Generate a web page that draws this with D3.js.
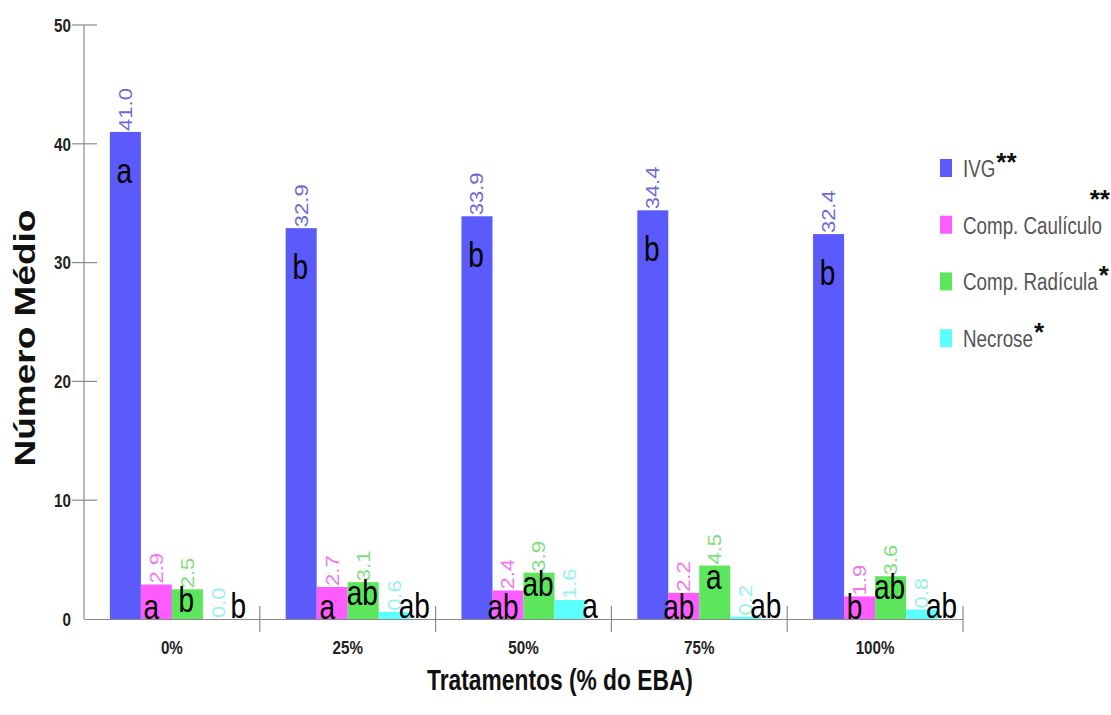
<!DOCTYPE html>
<html><head><meta charset="utf-8">
<script src="https://cdn.jsdelivr.net/npm/d3@7"></script>
<style>body{margin:0;background:#fff}svg{display:block}</style>
</head><body><svg id="c" width="1111" height="715"></svg>
<script>
// ---- data ----
const categories = ["0%", "25%", "50%", "75%", "100%"];
const seriesNames = ["IVG", "Comp. Caulículo", "Comp. Radícula", "Necrose"];
const ivg     = [41.0, 32.9, 33.9, 34.4, 32.4];
const caulic  = [2.9, 2.7, 2.4, 2.2, 1.9];
const radic   = [2.5, 3.1, 3.9, 4.5, 3.6];
const necrose = [0.0, 0.6, 1.6, 0.2, 0.8];
const lettersIvg  = ["a", "b", "b", "b", "b"];
const lettersCaul = ["a", "a", "ab", "ab", "b"];
const lettersRad  = ["b", "ab", "ab", "a", "ab"];
const lettersNec  = ["b", "ab", "a", "ab", "ab"];
const significance = ["**", "**", "*", "*"];
const yTicks = [0, 10, 20, 30, 40, 50];
const xTitle = "Tratamentos (% do EBA)";
const yTitle = "Número Médio";

// ---- styles ----
const FONT = "'Liberation Sans', Arial, sans-serif";
const barColors = ["#5b5bfb", "#ff5cff", "#5ce65c", "#5cffff"];
const labelColors = ["#6a6ad8", "#ee78ee", "#80de80", "#96f0f0"];
const letterStyle = [
  {dx: -1, mode: "top", off: 51},
  {dx: -5, mode: "base", off: 0},
  {dx: -1, mode: "top", off: 23},
  {dx: 20, mode: "base", off: -1}
];

const values = [ivg, caulic, radic, necrose];
const letters = [lettersIvg, lettersCaul, lettersRad, lettersNec];

const svg = d3.select("#c");
const mLeft = 84, mRight = 963, mTop = 25, mBottom = 619;

const x = d3.scaleBand().domain(categories).range([mLeft, mRight]).paddingInner(0).paddingOuter(0);
const xs = d3.scaleBand().domain(d3.range(seriesNames.length)).range([0, x.bandwidth()]).paddingInner(0).paddingOuter(0.835);
const y = d3.scaleLinear().domain([0, 50]).range([mBottom, mTop]);

const axisColor = "#8a8a8a";

const data = [];
categories.forEach((c, ci) => {
  values.forEach((arr, si) => {
    data.push({c, ci, si, v: arr[ci], letter: letters[si][ci]});
  });
});

svg.append("g").selectAll("rect").data(data).join("rect")
  .attr("x", d => x(d.c) + xs(d.si))
  .attr("width", xs.bandwidth())
  .attr("y", d => y(d.v))
  .attr("height", d => y(0) - y(d.v))
  .attr("fill", d => barColors[d.si]);

// axes lines
svg.append("line").attr("x1", mLeft).attr("x2", mLeft).attr("y1", y(50)).attr("y2", y(0))
  .attr("stroke", axisColor).attr("stroke-width", 1.2);
svg.append("line").attr("x1", mLeft).attr("x2", mRight).attr("y1", y(0) + 0.5).attr("y2", y(0) + 0.5)
  .attr("stroke", axisColor).attr("stroke-width", 1.2);

// y ticks
svg.append("g").selectAll("line").data(yTicks.filter(t => t > 0)).join("line")
  .attr("x1", mLeft - 12).attr("x2", mLeft + 13)
  .attr("y1", d => y(d)).attr("y2", d => y(d))
  .attr("stroke", axisColor).attr("stroke-width", 1.2);
svg.append("g").selectAll("text").data(yTicks).join("text")
  .attr("transform", d => `translate(${mLeft - 13},${y(d)}) scale(0.8,1)`)
  .attr("text-anchor", "end").attr("dy", "0.36em")
  .attr("font-family", FONT).attr("font-size", 19).attr("font-weight", "bold")
  .attr("fill", "#222").text(d => d);

// x separators
svg.append("g").selectAll("line").data(categories).join("line")
  .attr("x1", d => x(d) + x.bandwidth()).attr("x2", d => x(d) + x.bandwidth())
  .attr("y1", y(0) - 13).attr("y2", y(0) + 13)
  .attr("stroke", axisColor).attr("stroke-width", 1.2);
svg.append("g").selectAll("text").data(categories).join("text")
  .attr("transform", d => `translate(${x(d) + x.bandwidth() / 2},654) scale(0.8,1)`)
  .attr("text-anchor", "middle")
  .attr("font-family", FONT).attr("font-size", 19).attr("font-weight", "bold")
  .attr("fill", "#222").text(d => d);

// value labels (rotated)
svg.append("g").selectAll("text").data(data).join("text")
  .attr("transform", d => `translate(${x(d.c) + xs(d.si) + xs.bandwidth() / 2},${y(d.v) - 1}) rotate(-90) scale(1,0.8)`)
  .attr("dy", "0.36em")
  .attr("font-family", FONT).attr("font-size", 22)
  .attr("fill", d => labelColors[d.si])
  .text(d => d.v.toFixed(1));

// significance letters
svg.append("g").selectAll("text").data(data).join("text")
  .attr("transform", d => {
    const st = letterStyle[d.si];
    const cx = x(d.c) + xs(d.si) + xs.bandwidth() / 2 + st.dx;
    const by = st.mode === "top" ? y(d.v) + st.off : y(0) + st.off;
    return `translate(${cx},${by}) scale(0.8,1)`;
  })
  .attr("text-anchor", "middle")
  .attr("font-family", FONT).attr("font-size", 35)
  .attr("fill", "#000").text(d => d.letter);

// legend
const lg = svg.append("g");
const legendX = 940, legendBase = 177, legendStep = 56.7;
seriesNames.forEach((name, i) => {
  const by = legendBase + i * legendStep;
  lg.append("rect").attr("x", legendX).attr("y", by - 18).attr("width", 12).attr("height", 18)
    .attr("fill", barColors[i]);
  const t = lg.append("text")
    .attr("transform", `translate(${legendX + 23},${by}) scale(0.8,1)`)
    .attr("font-family", FONT).attr("font-size", 23.5).attr("fill", "#555").text(name);
  const tw = t.node().getComputedTextLength() * 0.8;
  const ast = lg.append("text")
    .attr("font-family", FONT).attr("font-size", 26).attr("font-weight", "bold")
    .attr("fill", "#111").text(significance[i]);
  const aw = ast.node().getComputedTextLength();
  const endX = legendX + 23 + tw;
  if (endX + 2 + aw > 1110) {
    ast.attr("x", 1110).attr("y", by - 26).attr("text-anchor", "end");
  } else {
    ast.attr("x", endX + 1).attr("y", by - 6);
  }
});

// titles
svg.append("text")
  .attr("transform", `translate(560,690) scale(0.76,1)`)
  .attr("text-anchor", "middle")
  .attr("font-family", FONT).attr("font-size", 30).attr("font-weight", "bold")
  .attr("fill", "#111").text(xTitle);
svg.append("text")
  .attr("transform", `translate(24,338) rotate(-90) scale(1,0.8)`)
  .attr("text-anchor", "middle").attr("dy", "0.36em")
  .attr("font-family", FONT).attr("font-size", 37).attr("font-weight", "bold")
  .attr("fill", "#111").text(yTitle);
</script></body></html>
